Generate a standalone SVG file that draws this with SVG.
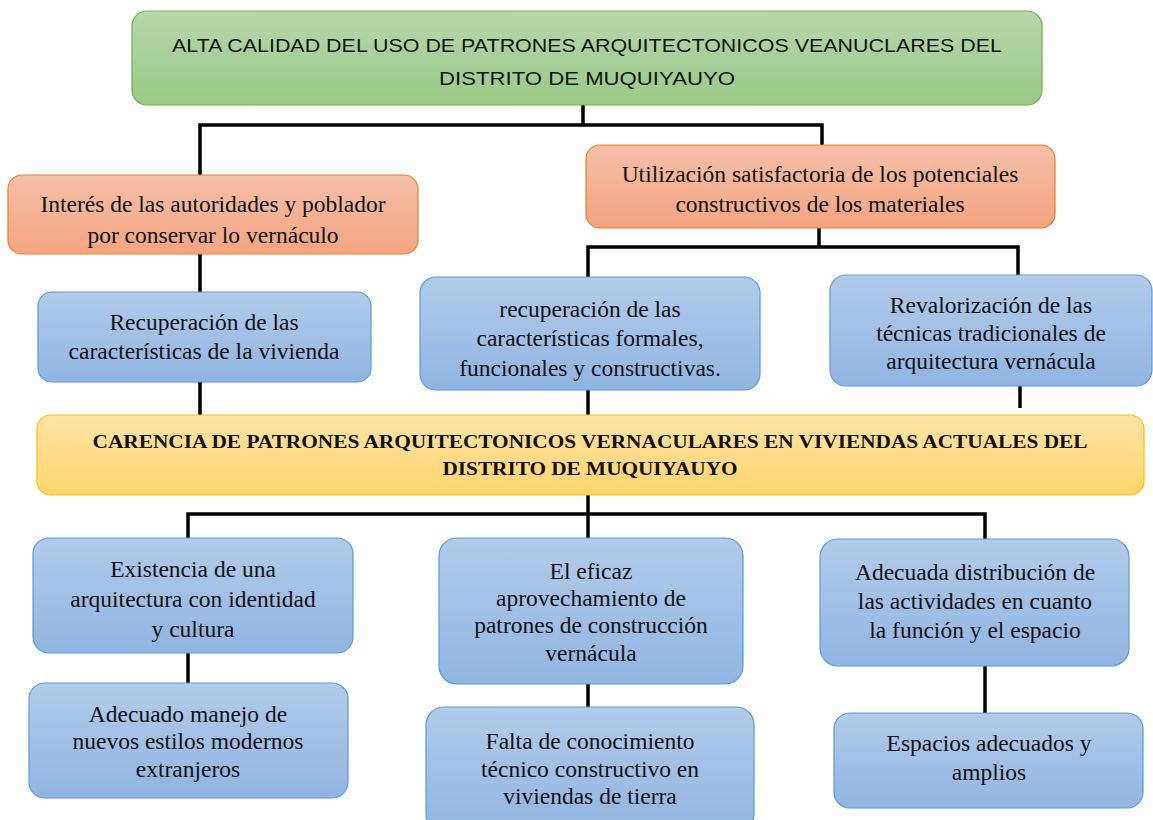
<svg xmlns="http://www.w3.org/2000/svg" width="1153" height="820" viewBox="0 0 1153 820">
<defs>
<linearGradient id="gG" x1="0" y1="0" x2="0" y2="1"><stop offset="0" stop-color="#b7d7aa"/><stop offset="1" stop-color="#9ac985"/></linearGradient>
<linearGradient id="gO" x1="0" y1="0" x2="0" y2="1"><stop offset="0" stop-color="#f6c0a8"/><stop offset="1" stop-color="#f4a47f"/></linearGradient>
<linearGradient id="gB" x1="0" y1="0" x2="0" y2="1"><stop offset="0" stop-color="#b3cbea"/><stop offset="1" stop-color="#8fb5e2"/></linearGradient>
<linearGradient id="gY" x1="0" y1="0" x2="0" y2="1"><stop offset="0" stop-color="#ffe4a6"/><stop offset="1" stop-color="#ffd46e"/></linearGradient>
</defs>
<style>
.g{fill:url(#gG);stroke:#70ad47;stroke-width:1.2}
.o{fill:url(#gO);stroke:#ed7d31;stroke-width:1.2}
.b{fill:url(#gB);stroke:#5b9bd5;stroke-width:1.2}
.y{fill:url(#gY);stroke:#ffc000;stroke-width:1.2}
.t{font-family:"Liberation Serif","Times New Roman",serif;font-size:23.5px;fill:#111;text-anchor:middle}
.s{font-family:"Liberation Sans",Arial,sans-serif;font-size:19px;fill:#111;text-anchor:middle}
.tb{font-family:"Liberation Serif","Times New Roman",serif;font-size:19.5px;font-weight:bold;fill:#111;text-anchor:middle}
.c{fill:none;stroke:#000;stroke-width:3.5}
</style>
<rect width="1153" height="820" fill="#fff"/>
<g id="connectors">
<polyline class="c" points="583,105 583,125"/>
<polyline class="c" points="200,175 200,125 822,125 822,145"/>
<polyline class="c" points="200,254 200,292"/>
<polyline class="c" points="200,382 200,415"/>
<polyline class="c" points="819,228 819,247"/>
<polyline class="c" points="588,277 588,247 1018,247 1018,275"/>
<polyline class="c" points="588,390 588,415"/>
<polyline class="c" points="1020,386 1020,408"/>
<polyline class="c" points="588,495 588,539"/>
<polyline class="c" points="188,539 188,514 985,514 985,541"/>
<polyline class="c" points="188,653 188,683"/>
<polyline class="c" points="588,684 588,707"/>
<polyline class="c" points="985,666 985,713"/>
</g>
<g id="n-top">
<rect class="g" x="132" y="11" width="910" height="94" rx="15"/>
<text class="s" x="587" y="52" textLength="830" lengthAdjust="spacingAndGlyphs">ALTA CALIDAD DEL USO DE PATRONES ARQUITECTONICOS VEANUCLARES DEL</text>
<text class="s" x="587" y="85" textLength="296" lengthAdjust="spacingAndGlyphs">DISTRITO DE MUQUIYAUYO</text>
</g>
<g id="n-interes">
<rect class="o" x="8" y="175" width="410" height="79" rx="14"/>
<text class="t" x="213" y="212">Interés de las autoridades y poblador</text>
<text class="t" x="213" y="243">por conservar lo vernáculo</text>
</g>
<g id="n-utilizacion">
<rect class="o" x="586" y="145" width="469" height="83" rx="14"/>
<text class="t" x="820" y="182">Utilización satisfactoria de los potenciales</text>
<text class="t" x="820" y="212">constructivos de los materiales</text>
</g>
<g id="n-recup1">
<rect class="b" x="38" y="292" width="333" height="90" rx="14"/>
<text class="t" x="204" y="330">Recuperación de las</text>
<text class="t" x="204" y="359">características de la vivienda</text>
</g>
<g id="n-recup2">
<rect class="b" x="420" y="277" width="340" height="113" rx="16"/>
<text class="t" x="590" y="317">recuperación de las</text>
<text class="t" x="590" y="346">características formales,</text>
<text class="t" x="590" y="376">funcionales y constructivas.</text>
</g>
<g id="n-reval">
<rect class="b" x="830" y="275" width="322" height="111" rx="16"/>
<text class="t" x="991" y="313">Revalorización de las</text>
<text class="t" x="991" y="341">técnicas tradicionales de</text>
<text class="t" x="991" y="369">arquitectura vernácula</text>
</g>
<g id="n-carencia">
<rect class="y" x="37" y="415" width="1107" height="80" rx="14"/>
<text class="tb" x="590" y="448" textLength="995" lengthAdjust="spacingAndGlyphs">CARENCIA DE PATRONES ARQUITECTONICOS VERNACULARES EN VIVIENDAS ACTUALES DEL</text>
<text class="tb" x="590" y="475" textLength="295" lengthAdjust="spacingAndGlyphs">DISTRITO DE MUQUIYAUYO</text>
</g>
<g id="n-existencia">
<rect class="b" x="33" y="538" width="320" height="115" rx="16"/>
<text class="t" x="193" y="577">Existencia de una</text>
<text class="t" x="193" y="607">arquitectura con identidad</text>
<text class="t" x="193" y="637">y cultura</text>
</g>
<g id="n-manejo">
<rect class="b" x="29" y="683" width="319" height="115" rx="16"/>
<text class="t" x="188" y="722">Adecuado manejo de</text>
<text class="t" x="188" y="749">nuevos estilos modernos</text>
<text class="t" x="188" y="777">extranjeros</text>
</g>
<g id="n-eficaz">
<rect class="b" x="439" y="538" width="304" height="146" rx="18"/>
<text class="t" x="591" y="579">El eficaz</text>
<text class="t" x="591" y="606">aprovechamiento de</text>
<text class="t" x="591" y="633">patrones de construcción</text>
<text class="t" x="591" y="661">vernácula</text>
</g>
<g id="n-falta">
<rect class="b" x="426" y="707" width="328" height="125" rx="18"/>
<text class="t" x="590" y="749">Falta de conocimiento</text>
<text class="t" x="590" y="777">técnico constructivo en</text>
<text class="t" x="590" y="804">viviendas de tierra</text>
</g>
<g id="n-distribucion">
<rect class="b" x="820" y="539" width="309" height="127" rx="18"/>
<text class="t" x="975" y="580">Adecuada distribución de</text>
<text class="t" x="975" y="609">las actividades en cuanto</text>
<text class="t" x="975" y="638">la función y el espacio</text>
</g>
<g id="n-espacios">
<rect class="b" x="834" y="713" width="309" height="95" rx="16"/>
<text class="t" x="989" y="751">Espacios adecuados y</text>
<text class="t" x="989" y="780">amplios</text>
</g>
</svg>
